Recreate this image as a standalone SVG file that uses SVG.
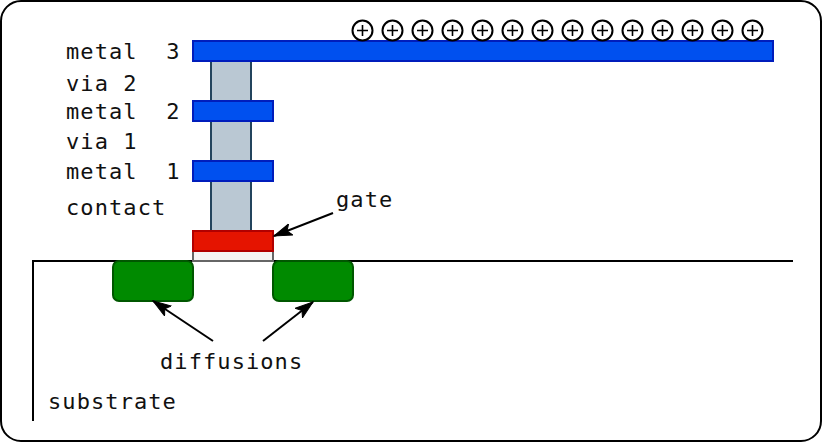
<svg xmlns="http://www.w3.org/2000/svg" width="822" height="442" viewBox="0 0 822 442">
<defs>
<marker id="arrow" markerUnits="userSpaceOnUse" markerWidth="20" markerHeight="14" refX="18" refY="7" orient="auto" viewBox="0 0 20 14"><path d="M0 1L18 7L0 13L4 7Z" fill="#000" stroke="#000" stroke-width="1"/></marker>
<g id="plus"><circle r="10" fill="#fff" stroke="#000" stroke-width="2"/><path d="M-5.5 0H5.5M0-5.5V5.5" stroke="#000" stroke-width="1.6" fill="none"/></g>
</defs>
<style>
text{font-family:"DejaVu Sans Mono","Liberation Mono",monospace;font-size:22px;letter-spacing:1.08px;fill:#111}
.metal{fill:#0050ef;stroke:#001dbc;stroke-width:2}
.via{fill:#bac8d3;stroke:#23445d;stroke-width:2}
.diff{fill:#008a00;stroke:#005700;stroke-width:2}
.conn{stroke:#000;stroke-width:2;fill:none}
</style>
<rect x="1" y="1" width="820" height="440" rx="20" fill="#fff" stroke="#000" stroke-width="2"/>
<g id="substrate"><path d="M33 421V261H793" fill="none" stroke="#000" stroke-width="2"/><text x="48" y="409">substrate</text></g>
<g id="diffusion-left"><rect class="diff" x="113" y="261" width="80" height="40" rx="6"/></g>
<g id="diffusion-right"><rect class="diff" x="273" y="261" width="80" height="40" rx="6"/></g>
<g id="oxide"><rect x="193" y="251" width="80" height="10" fill="#f5f5f5" stroke="#666" stroke-width="2"/></g>
<g id="contact"><rect class="via" x="211" y="181" width="40" height="50"/><text x="66" y="215">contact</text></g>
<g id="via-1"><rect class="via" x="211" y="121" width="40" height="40"/><text x="66" y="149">via 1</text></g>
<g id="via-2"><rect class="via" x="211" y="61" width="40" height="40"/><text x="66" y="91">via 2</text></g>
<g id="gate"><rect x="193" y="231" width="80" height="20" fill="#e51400" stroke="#b20000" stroke-width="2"/><text x="336" y="207">gate</text></g>
<g id="metal-1"><rect class="metal" x="193" y="161" width="80" height="20"/><text x="66" y="179" xml:space="preserve">metal  1</text></g>
<g id="metal-2"><rect class="metal" x="193" y="101" width="80" height="20"/><text x="66" y="119" xml:space="preserve">metal  2</text></g>
<g id="metal-3"><rect class="metal" x="193" y="41" width="580" height="20"/><text x="66" y="59" xml:space="preserve">metal  3</text></g>
<g id="charges">
<use href="#plus" x="362.5" y="30.5"/><use href="#plus" x="392.5" y="30.5"/><use href="#plus" x="422.5" y="30.5"/><use href="#plus" x="452.5" y="30.5"/><use href="#plus" x="482.5" y="30.5"/><use href="#plus" x="512.5" y="30.5"/><use href="#plus" x="542.5" y="30.5"/><use href="#plus" x="572.5" y="30.5"/><use href="#plus" x="602.5" y="30.5"/><use href="#plus" x="632.5" y="30.5"/><use href="#plus" x="662.5" y="30.5"/><use href="#plus" x="692.5" y="30.5"/><use href="#plus" x="722.5" y="30.5"/><use href="#plus" x="752.5" y="30.5"/>
</g>
<g id="connectors">
<path class="conn" d="M333 213L274 236" marker-end="url(#arrow)"/>
<path class="conn" d="M213 341L153 301" marker-end="url(#arrow)"/>
<path class="conn" d="M263 341L313 302" marker-end="url(#arrow)"/>
</g>
<g id="diffusions-label"><text x="160" y="369">diffusions</text></g>
</svg>
